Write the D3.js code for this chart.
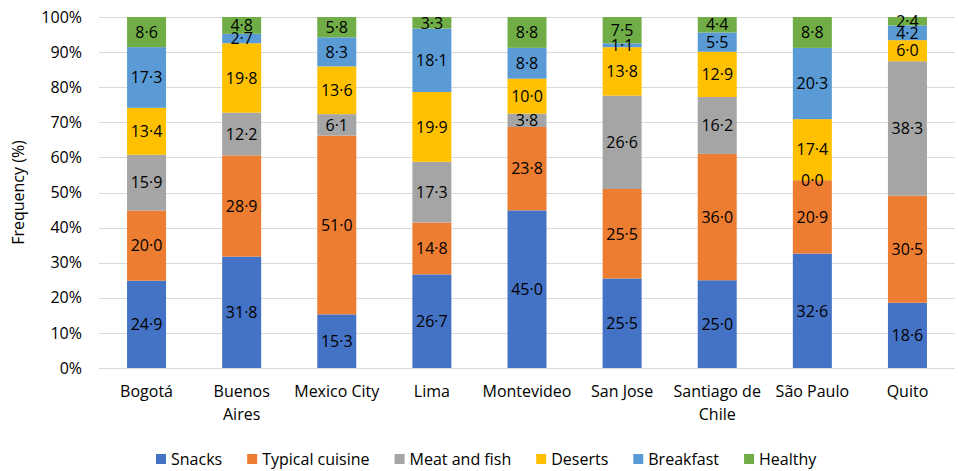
<!DOCTYPE html>
<html>
<head>
<meta charset="utf-8">
<script src="https://cdn.jsdelivr.net/npm/d3@7"></script>
<style>
  body { margin: 0; background: #fff; }
  text { font-family: "Open Sans", "DejaVu Sans", sans-serif; fill: #000; }
</style>
</head>
<body>
<svg id="chart" width="958" height="471"></svg>
<script>
// city names, second line where the label wraps
let cities = [ ["Bogotá"], ["Buenos", "Aires"], ["Mexico City"], ["Lima"], ["Montevideo"],
	["San Jose"], ["Santiago de", "Chile"], ["São Paulo"], ["Quito"] ];
let seriesNames = [ "Snacks", "Typical cuisine", "Meat and fish", "Deserts", "Breakfast", "Healthy" ];
let seriesColors = [ "#4472C4", "#ED7D31", "#A5A5A5", "#FFC000", "#5B9BD5", "#70AD47" ];

let snacks    = [ 24.9, 31.8, 15.3, 26.7, 45.0, 25.5, 25.0, 32.6, 18.6 ];
let typical   = [ 20.0, 28.9, 51.0, 14.8, 23.8, 25.5, 36.0, 20.9, 30.5 ];
let meatFish  = [ 15.9, 12.2,  6.1, 17.3,  3.8, 26.6, 16.2,  0.0, 38.3 ];
let deserts   = [ 13.4, 19.8, 13.6, 19.9, 10.0, 13.8, 12.9, 17.4,  6.0 ];
let breakfast = [ 17.3,  2.7,  8.3, 18.1,  8.8,  1.1,  5.5, 20.3,  4.2 ];
let healthy   = [  8.6,  4.8,  5.8,  3.3,  8.8,  7.5,  4.4,  8.8,  2.4 ];
let yTicks    = [ 0, 10, 20, 30, 40, 50, 60, 70, 80, 90, 100 ];

let allSeries = [ snacks, typical, meatFish, deserts, breakfast, healthy ];

let svg = d3.select("#chart");
let plotL = 99, plotR = 955, plotT = 17, plotB = 368;

let x = d3.scaleBand()
	.domain( cities.map( (c, i) => i ) )
	.range( [plotL, plotR] )
	.paddingInner( 0.59 )
	.paddingOuter( 0.295 );
let y = d3.scaleLinear().domain( [0, 100] ).range( [plotB, plotT] );

// rows for the stack, normalised to 100% like the spreadsheet does
let rows = cities.map( (c, i) => {
	let row = { idx: i };
	let total = d3.sum( allSeries, s => s[i] );
	seriesNames.forEach( (n, k) => { row[n] = allSeries[k][i] / total * 100; row[n + "_raw"] = allSeries[k][i]; } );
	return row;
});
let stacked = d3.stack().keys( seriesNames )( rows );

// gridlines
svg.append("g")
	.selectAll("line")
	.data( yTicks ).enter().append("line")
		.attr("x1", plotL).attr("x2", plotR)
		.attr("y1", d => Math.round(y(d)) + 0.5).attr("y2", d => Math.round(y(d)) + 0.5)
		.attr("stroke", "#D9D9D9").attr("stroke-width", 1);

// y axis labels
let yAxis = d3.axisLeft(y).tickValues( yTicks ).tickFormat( d => d + "%" ).tickSize(0).tickPadding(0);
svg.append("g")
	.attr("transform", "translate(82,0)")
	.call( yAxis )
	.call( g => g.select(".domain").remove() )
	.selectAll("text")
		.style("font-size", "16px")
		.style("font-family", "'Open Sans', sans-serif")
		.attr("fill", "#000");

svg.append("text")
	.attr("transform", "translate(24," + ((plotT + plotB) / 2) + ") rotate(-90)")
	.attr("text-anchor", "middle")
	.style("font-size", "16px")
	.text("Frequency (%)");

// bars
let fmt = d3.format(".1f");
let layers = svg.append("g").selectAll("g")
	.data( stacked ).enter().append("g")
		.attr("fill", (d, k) => seriesColors[k]);

layers.selectAll("rect")
	.data( d => d ).enter().append("rect")
		.attr("x", d => x(d.data.idx))
		.attr("width", x.bandwidth())
		.attr("y", d => y(d[1]))
		.attr("height", d => y(d[0]) - y(d[1]));

let labels = svg.append("g").selectAll("g")
	.data( stacked ).enter().append("g");
labels.selectAll("text")
	.data( d => d.map( p => ({ p: p, key: d.key }) ) ).enter().append("text")
		.attr("x", d => x(d.p.data.idx) + x.bandwidth() / 2)
		.attr("y", d => (y(d.p[0]) + y(d.p[1])) / 2)
		.attr("dy", "0.36em")
		.attr("text-anchor", "middle")
		.style("font-size", "16px")
		.attr("fill", "#111")
		.text( d => fmt( d.p.data[d.key + "_raw"] ).replace(".", "·") );

// x labels
let xl = svg.append("g").selectAll("text")
	.data( cities ).enter().append("text")
		.attr("x", (d, i) => x(i) + x.bandwidth() / 2)
		.attr("y", 397)
		.attr("text-anchor", "middle")
		.style("font-size", "16px");
xl.selectAll("tspan")
	.data( d => d ).enter().append("tspan")
		.attr("x", function() { return this.parentNode.getAttribute("x"); })
		.attr("dy", (d, j) => j === 0 ? 0 : 23)
		.text( d => d );

// legend
let leg = svg.append("g").attr("transform", "translate(0,459)");
let legX = 156;
seriesNames.forEach( (n, k) => {
	leg.append("rect")
		.attr("x", legX).attr("y", -5).attr("width", 10).attr("height", 10)
		.attr("fill", seriesColors[k]);
	let t = leg.append("text")
		.attr("x", legX + 15).attr("y", 0).attr("dy", "0.36em")
		.style("font-size", "16px")
		.text(n);
	legX += 15 + t.node().getComputedTextLength() + 25;
});
</script>
</body>
</html>
